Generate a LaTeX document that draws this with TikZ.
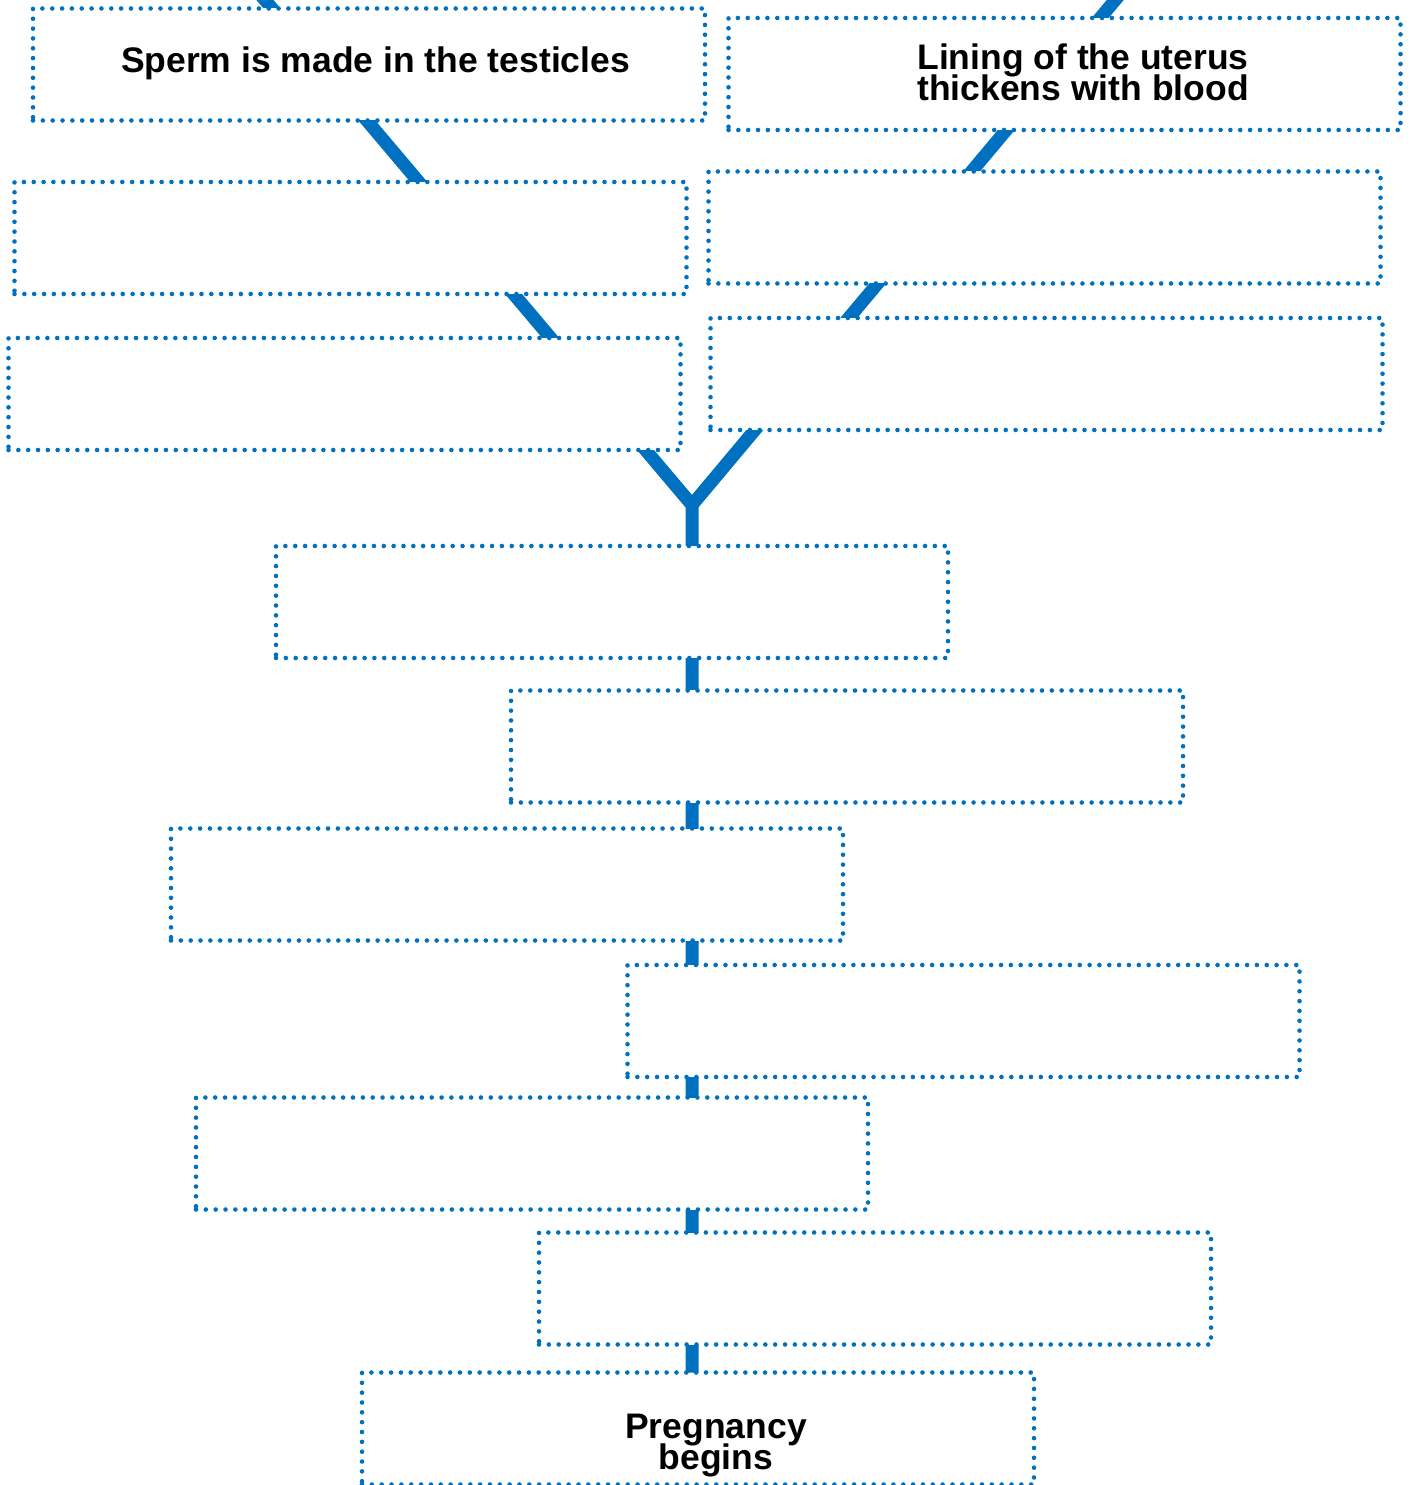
\documentclass[tikz,border=0pt]{standalone}
\usepackage{fontspec}
\setmainfont{Liberation Sans}
\usepackage{xcolor}
\usetikzlibrary{backgrounds}
\definecolor{flowblue}{RGB}{0,112,192}
\newcommand{\boxfont}{\bfseries\fontsize{10.1}{8.9}\selectfont\lineskiplimit=-5pt\relax}

\begin{document}
\begin{tikzpicture}[
    box/.style={draw=flowblue, fill=white, line width=1.3pt, line cap=round,
        dash pattern=on 0pt off 2.8pt, rectangle, inner sep=0pt, outer sep=0pt,
        minimum width=6.72cm, minimum height=1.12cm},
    boxtext/.style={font=\boxfont, align=center, inner sep=0pt},
    link/.style={draw=flowblue, line width=3.7pt}
]
\useasboundingbox (0,0) rectangle (14.10,-14.85);

% Nodes
\node[box, label={[boxtext, xshift=0.065cm, yshift=0.01cm]center:Sperm is made in the testicles}] (SP) at (3.69,-0.645) {};
\node[box, label={[boxtext, xshift=0.185cm, yshift=0.02cm]center:Lining of the uterus\\thickens with blood}] (LU) at (10.645,-0.74) {};
\node[box] (L2) at (3.505,-2.38) {};
\node[box] (R2) at (10.445,-2.275) {};
\node[box] (L3) at (3.445,-3.94) {};
\node[box] (R3) at (10.465,-3.74) {};
\node[box] (C1) at (6.12,-6.02) {};
\node[box] (C2) at (8.47,-7.465) {};
\node[box] (C3) at (5.07,-8.845) {};
\node[box] (C4) at (9.635,-10.21) {};
\node[box] (C5) at (5.32,-11.535) {};
\node[box] (C6) at (8.75,-12.885) {};
\node[box, label={[boxtext, xshift=0.18cm, yshift=-0.17cm]center:Pregnancy\\begins}] (PB) at (6.98,-14.285) {};

\coordinate (topL) at (2.48,0.2);
\coordinate (topR) at (11.32,0.2);
\coordinate (fork) at (6.92,-5.05);

% Edges (behind the boxes)
\begin{pgfonlayer}{background}
\draw[link] (topL) -- (fork) -- (fork |- PB.north);
\draw[link] (topR) -- (fork);
\end{pgfonlayer}

\end{tikzpicture}
\end{document}
